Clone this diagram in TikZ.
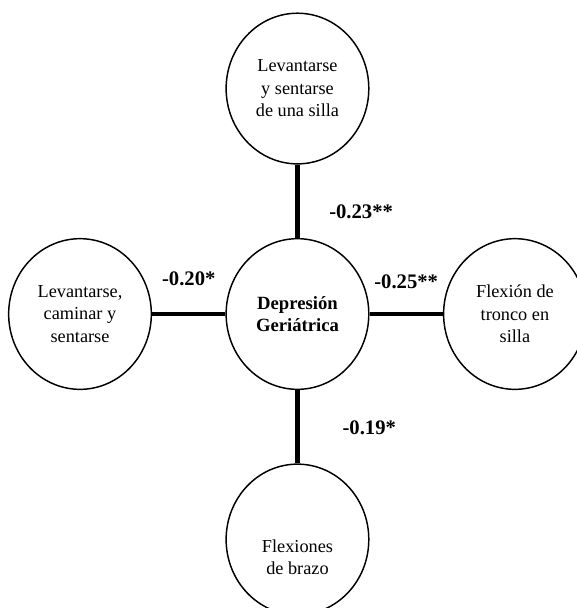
\documentclass[tikz,border=0pt]{standalone}
\usepackage{fontspec}
\setmainfont{Liberation Serif}
\usetikzlibrary{positioning, shapes.geometric}

\begin{document}
\begin{tikzpicture}
	\tikzset{
		txt/.style={align=center, font=\fontsize{13.7}{16.9}\selectfont},
		bubble/.style={draw, ellipse, txt, line width=1.1pt, minimum width=107pt, minimum height=113pt, inner sep=0pt},
		link/.style={line width=3.7pt},
		weight/.style={inner sep=0pt, font=\fontsize{15.5}{18}\selectfont\bfseries},
		node distance=55pt
	}
	\useasboundingbox (0,0) rectangle (432.75pt,-456pt);
	
	% Central node
	\node[bubble, font=\fontsize{14}{17}\selectfont\bfseries] (dep) at (223.1pt,-235.5pt) {Depresión\\Geriátrica};
	
	% Outer nodes
	\node[bubble, above=of dep] (silla) {Levantarse\\y sentarse\\de una silla};
	\node[bubble, left=of dep] (caminar) {Levantarse,\\caminar y\\sentarse};
	\node[bubble, right=of dep] (tronco) {Flexión de\\tronco en\\silla};
	\node[bubble, below=of dep, label={[txt, yshift=-13.5pt]center:Flexiones\\de brazo}] (brazo) {};
	
	% Links with correlations
	\draw[link] (dep) -- node[weight, right=22pt, pos=0.36] {-0.23**} (silla);
	\draw[link] (dep) -- node[weight, above=19pt] {-0.20*} (caminar);
	\draw[link] (dep) -- node[weight, above=17pt] {-0.25**} (tronco);
	\draw[link] (dep) -- node[weight, right=32pt, pos=0.52] {-0.19*} (brazo);
	
\end{tikzpicture}
\end{document}
